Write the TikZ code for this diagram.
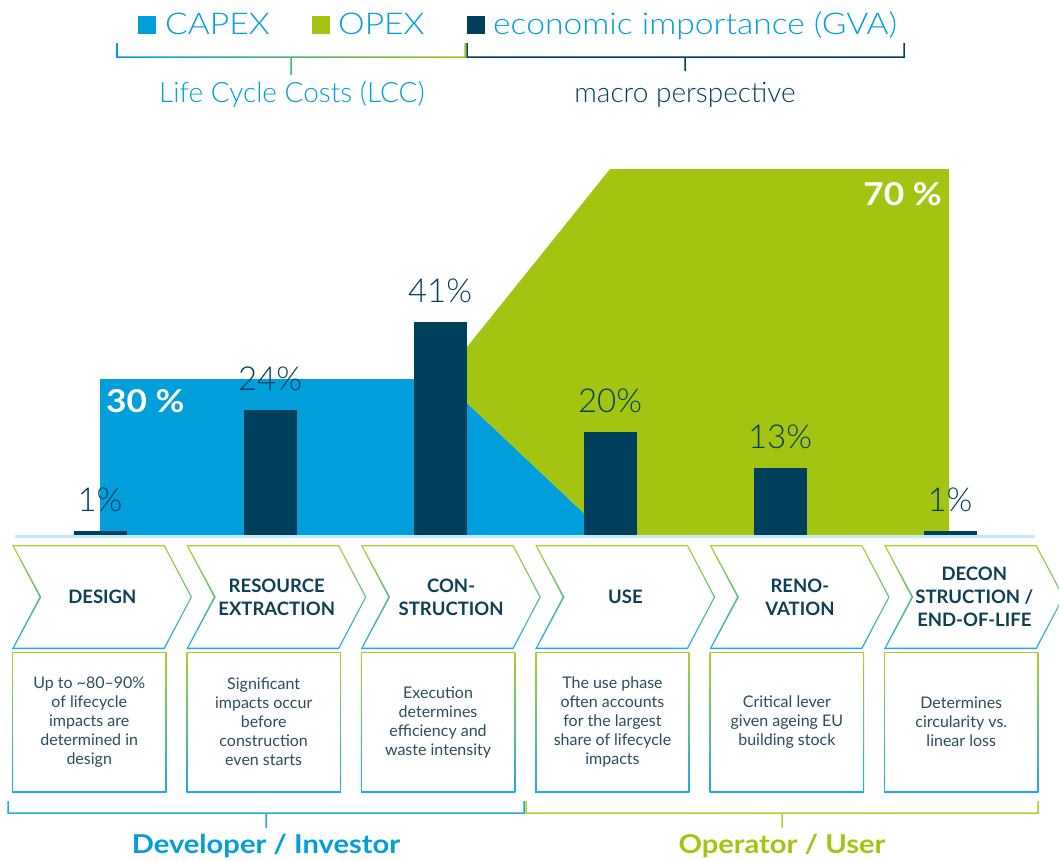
\documentclass[tikz,border=0pt]{standalone}
\usepackage{fontspec}
\setmainfont{Lato}
\newfontfamily\lightfont{Lato Light}
\newfontfamily\widelight{Lato Light}[FakeStretch=1.12]
\newfontfamily\widebold{Lato}[FakeStretch=1.12]
\usetikzlibrary{positioning}

\definecolor{capblue}{HTML}{009EDB}
\definecolor{opgreen}{HTML}{A3C512}
\definecolor{gvanavy}{HTML}{00405C}
\definecolor{basecyan}{HTML}{C4EAF9}
\definecolor{headnavy}{HTML}{0E3F57}
\definecolor{notenavy}{HTML}{2B4D5E}
\definecolor{rimgreen}{HTML}{B0CF2A}
\definecolor{rimblue}{HTML}{1EAAE2}

% left x, tip x, right x, end y, line y, tip y
\newcommand\bracepoly[6]{({#1-0.75},#4) -- ({#1-0.75},{#5+0.75}) -- ({#2-0.75},{#5+0.75}) -- ({#2-0.75},#6) -- ({#2+0.75},#6) -- ({#2+0.75},{#5+0.75}) -- ({#3+0.75},{#5+0.75}) -- ({#3+0.75},#4) -- ({#3-0.75},#4) -- ({#3-0.75},{#5-0.75}) -- ({#1+0.75},{#5-0.75}) -- ({#1+0.75},#4) -- cycle}

\tikzset{
  legend/.style={font={\widelight\fontsize{30}{30}\selectfont}, text=capblue, anchor=base west, inner sep=0pt},
  caption/.style={font={\lightfont\fontsize{28}{28}\selectfont}, anchor=base, inner sep=0pt},
  pct/.style={font={\lightfont\fontsize{33}{33}\selectfont}, text=gvanavy, anchor=base, inner sep=0pt},
  share/.style={font={\widebold\bfseries\fontsize{31.5}{31.5}\selectfont}, text=white, inner sep=0pt},
  phase/.style={font={\bfseries\fontsize{18.5}{23}\selectfont}, text=headnavy, align=center, inner sep=0pt},
  note/.style={font={\fontsize{16}{19}\selectfont}, text=notenavy, align=center, inner sep=0pt},
  actor/.style={font={\widebold\bfseries\fontsize{26}{26}\selectfont}, anchor=base, inner sep=0pt},
}

\begin{document}
\begin{tikzpicture}[x=1pt,y=-1pt]
  \useasboundingbox (0,0) rectangle (1059,860);

  \fill[capblue] (138,16) rectangle (156,34);
  \node[legend] (capex) at (165,34) {CAPEX};
  \fill[opgreen] (312,16) rectangle (330,34);
  \node[legend] (opex) at (338,34) {OPEX};
  \fill[gvanavy] (467,16) rectangle (485,34);
  \node[legend] (gva) at (493,34) {economic importance (GVA)};
  \shade[left color=capblue, right color=opgreen] \bracepoly{117}{291}{465}{43}{57}{75};
  \fill[gvanavy] \bracepoly{467}{685}{904}{43}{57}{71};
  \node[caption, text=capblue] (lcc) at (292,102) {Life Cycle Costs (LCC)};
  \node[caption, text=gvanavy] (macro) at (685,102) {macro perspective};

  \fill[capblue] (100,379) -- (467,379) -- (467,403) -- (607,535) -- (100,535) -- cycle;
  \fill[opgreen] (467,347) -- (610,169) -- (949,169) -- (949,535) -- (607,535) -- (467,403) -- cycle;
  \draw[basecyan, line width=2.5pt] (15,536.5) -- (1035,536.5);
  \foreach \cx/\ytop/\lab [count=\i] in {100/531/1\%, 270/410/24\%, 440/322/41\%, 610/432/20\%, 780/468/13\%, 950/531/1\%}{
    \fill[gvanavy] ({\cx-26.5},535) rectangle ({\cx+26.5},\ytop);
    \node[pct] (pct\i) at (\cx,{\ytop-19.5}) {\lab};
  }
  \node[share, anchor=base west] (capshare) at (106,412) {30 \%};
  \node[share, anchor=base east] (opshare) at (942,205) {70 \%};

  \foreach \lab/\txt [count=\i from 0] in {
    DESIGN/{Up to \textasciitilde80–90\%\\of lifecycle\\impacts are\\determined in\\design},
    {RESOURCE\\EXTRACTION}/{Significant\\impacts occur\\before\\construction\\even starts},
    {CON-\\STRUCTION}/{Execution\\determines\\efficiency and\\waste intensity},
    USE/{The use phase\\often accounts\\for the largest\\share of lifecycle\\impacts},
    {RENO-\\VATION}/{Critical lever\\given ageing EU\\building stock},
    {DECON\\STRUCTION /\\END-OF-LIFE}/{Determines\\circularity vs.\\linear loss}}{
    \pgfmathsetmacro\lx{12+174.4*\i}
    \shade[top color=rimgreen, bottom color=rimblue] (\lx,545) -- ++(152.6,0) -- ++(27.4,52) -- ++(-27.4,52) -- ++(-152.6,0) -- ++(27.4,-52) -- cycle;
    \fill[white] ({\lx+2.15},546.3) -- ({\lx+151.8},546.3) -- ({\lx+178.5},597) -- ({\lx+151.8},647.7) -- ({\lx+2.15},647.7) -- ({\lx+29.5},597) -- cycle;
    \node[phase] (ph\i) at ({\lx+90.3},597) {\lab};
    \shade[top color=rimgreen, bottom color=rimblue] (\lx,652) rectangle ++(154.5,140);
    \fill[white] ({\lx+1.3},653.3) rectangle ({\lx+153.2},790.7);
    \node[note] (nt\i) at ({\lx+77.25},722) {\txt};
  }

  \fill[rimblue] \bracepoly{8}{266}{524}{801}{813}{828};
  \fill[rimgreen] \bracepoly{526}{782}{1038}{801}{813}{828};
  \node[actor, text=capblue] (dev) at (266,853) {Developer / Investor};
  \node[actor, text=opgreen] (user) at (782,853) {Operator / User};
\end{tikzpicture}
\end{document}
